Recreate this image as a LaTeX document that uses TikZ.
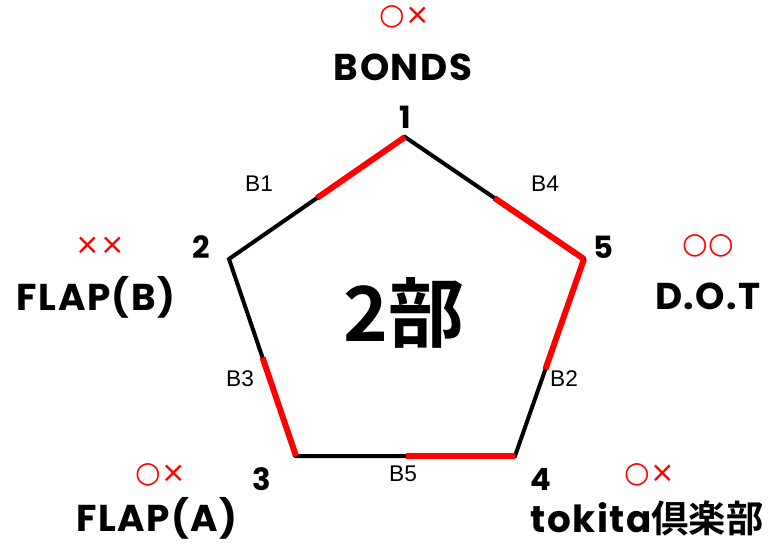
\documentclass[tikz,border=0pt]{standalone}
\usepackage{fontspec}
\setmainfont{Liberation Sans}
\newfontfamily\roundfont{Poppins}[LetterSpace=4]
\newfontfamily\symfont{DejaVu Sans}
\newfontfamily\cjk{Noto Sans CJK JP}[BoldFont={Noto Sans CJK JP Bold}]
\usetikzlibrary{calc}

\tikzset{
  edge/.style={line width=3pt,black,line join=miter},
  hot/.style={line width=4.5pt,red,line cap=butt},
  vnum/.style={font=\roundfont\bfseries\fontsize{23}{23}\selectfont,inner sep=0pt},
  team/.style={font=\roundfont\bfseries\fontsize{28}{28}\selectfont,inner sep=0pt},
  result/.style={text=red,font=\symfont\fontsize{22}{22}\selectfont,inner sep=0pt},
  blabel/.style={font=\fontsize{17}{17}\selectfont,inner sep=0pt},
}

\begin{document}
\begin{tikzpicture}[x=0.75pt,y=-0.75pt]
  \useasboundingbox (0,0) rectangle (770,544);

  % --- pentagon corners ---
  \coordinate (v1) at (405,137);
  \coordinate (v2) at (229,259);
  \coordinate (v3) at (296,456);
  \coordinate (v4) at (515,456);
  \coordinate (v5) at (584,259);

  % --- sides, black first, red halves on top ---
  \draw[edge] (v1) -- (v2) -- (v3) -- (v4) -- (v5) -- cycle;
  \draw[hot] (v1) -- ($(v1)!0.5!(v2)$);
  \draw[hot] (v5) -- ($(v5)!0.5!(v1)$);
  \draw[hot] (v5) -- ($(v5)!0.56!(v4)$);
  \draw[hot] (v4) -- ($(v4)!0.5!(v3)$);
  \draw[hot] (v3) -- ($(v3)!0.5!(v2)$);

  % --- corner numbers ---
  \node[vnum] (n1) at (405,117) {1};
  \node[vnum] (n2) at (201,247) {2};
  \node[vnum] (n3) at (262,479) {3};
  \node[vnum] (n4) at (541,479) {4};
  \node[vnum] (n5) at (603,247) {5};

  % --- side labels ---
  \node[blabel] (b1) at (259,184) {B1};
  \node[blabel] (b4) at (545,184) {B4};
  \node[blabel] (b3) at (240,379) {B3};
  \node[blabel] (b2) at (564,379) {B2};
  \node[blabel] (b5) at (403,474) {B5};

  % --- teams and their results ---
  \node[team] (t1) at (403,67) {BONDS};
  \node[result] (r1) at (405,17) {○×};
  \node[team] (t2) at (96,297) {FLAP(B)};
  \node[result] (r2) at (100,246) {××};
  \node[team] (t3) at (157,518) {FLAP(A)};
  \node[result] (r3) at (161,475) {○×};
  \node[team] (t4) at (647,518) {tokita{\cjk\bfseries 倶楽部}};
  \node[result] (r4) at (650,475) {○×};
  \node[team] (t5) at (708,296) {D.O.T};
  \node[result] (r5) at (708,246) {○○};

  % --- block title ---
  \node[font=\cjk\bfseries\fontsize{57}{57}\selectfont,inner sep=0pt] (title) at (404,313) {2部};
\end{tikzpicture}
\end{document}
